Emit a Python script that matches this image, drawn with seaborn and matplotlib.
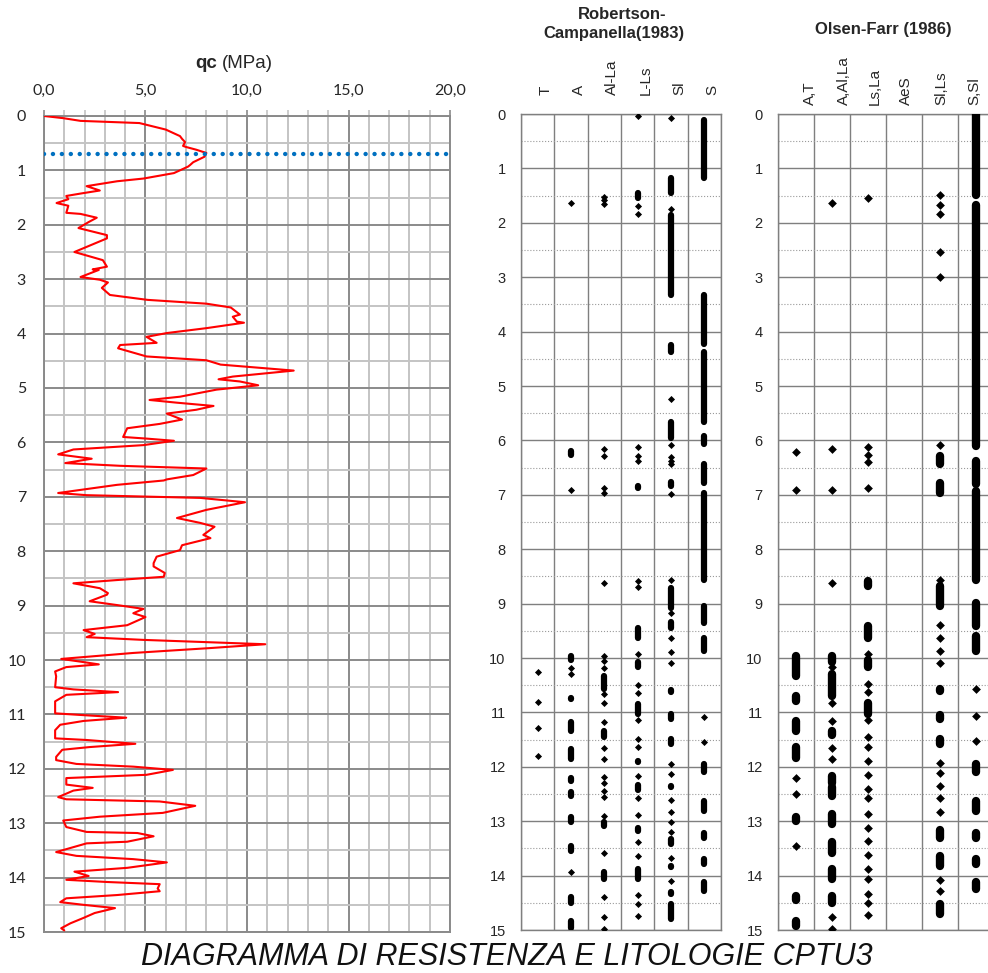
import numpy as np
import pandas as pd
import seaborn as sns
import matplotlib.pyplot as plt
import matplotlib.transforms as mtransforms
from matplotlib.ticker import MultipleLocator, FixedLocator

sns.set_style("white")
plt.rcParams['font.family'] = ['Liberation Sans', 'DejaVu Sans']

# --- qc profile (depth m, qc MPa) ---
qc_depth = [0.00, 0.04, 0.09, 0.13, 0.25, 0.37, 0.42, 0.48, 0.55, 0.57, 0.62, 0.68,
            0.75, 0.85, 0.90, 0.93, 1.05, 1.15, 1.20, 1.29, 1.37, 1.42, 1.47, 1.53,
            1.60, 1.65, 1.78, 1.80, 1.87, 1.95, 2.06, 2.19, 2.25, 2.50, 2.65, 2.77,
            2.82, 2.83, 2.96, 3.01, 3.06, 3.16, 3.29, 3.38, 3.45, 3.52, 3.65, 3.69,
            3.78, 3.80, 3.90, 3.99, 4.06, 4.17, 4.21, 4.27, 4.42, 4.49, 4.57, 4.68,
            4.79, 4.84, 4.88, 4.95, 5.03, 5.16, 5.22, 5.27, 5.33, 5.40, 5.47, 5.58,
            5.66, 5.74, 5.90, 5.93, 5.97, 6.05, 6.13, 6.22, 6.30, 6.38, 6.43, 6.48,
            6.60, 6.68, 6.70, 6.78, 6.93, 6.97, 7.02, 7.10, 7.24, 7.39, 7.48, 7.55,
            7.70, 7.76, 7.89, 7.98, 8.10, 8.22, 8.28, 8.40, 8.47, 8.53, 8.59, 8.68,
            8.77, 8.80, 8.92, 8.99, 9.06, 9.14, 9.21, 9.36, 9.45, 9.52, 9.58, 9.63,
            9.71, 9.78, 9.87, 9.98, 10.03, 10.08, 10.13, 10.21, 10.30, 10.50, 10.54,
            10.59, 10.64, 10.76, 10.98, 11.01, 11.06, 11.12, 11.19, 11.29, 11.44,
            11.47, 11.54, 11.60, 11.65, 11.78, 11.84, 11.91, 11.96, 12.02, 12.11,
            12.17, 12.29, 12.35, 12.40, 12.52, 12.56, 12.60, 12.68, 12.81, 12.88,
            12.95, 13.07, 13.16, 13.18, 13.24, 13.34, 13.37, 13.53, 13.60, 13.66,
            13.72, 13.82, 13.89, 13.97, 14.04, 14.08, 14.12, 14.20, 14.25, 14.32,
            14.38, 14.45, 14.50, 14.56, 14.65, 14.74, 14.84, 14.93, 14.97]
qc_value = [0.0, 0.95, 1.8, 4.7, 6.0, 6.7, 6.8, 6.95, 6.85, 7.0, 7.5, 8.0,
            7.9, 7.35, 7.2, 7.1, 6.4, 4.9, 3.6, 2.1, 2.75, 1.9, 1.1, 1.2,
            0.62, 1.2, 1.1, 1.8, 2.6, 2.2, 1.7, 3.1, 3.1, 1.5, 2.9, 3.1,
            2.4, 2.7, 1.8, 2.75, 3.15, 2.85, 3.25, 5.1, 8.0, 9.2, 9.65, 9.3,
            9.5, 9.85, 8.0, 6.05, 5.05, 5.55, 3.75, 3.65, 5.05, 8.0, 8.7, 12.3,
            9.3, 8.6, 9.65, 10.55, 8.5, 6.7, 5.2, 6.55, 8.35, 7.5, 6.05, 6.8,
            5.7, 4.1, 3.9, 5.05, 6.4, 4.9, 1.45, 0.7, 2.35, 1.05, 3.75, 8.0,
            7.35, 6.05, 5.9, 3.6, 0.7, 2.1, 7.7, 9.9, 8.0, 6.55, 7.7, 8.4,
            7.85, 8.2, 6.8, 6.7, 5.55, 5.4, 5.4, 5.95, 5.9, 3.6, 1.45, 2.75,
            3.15, 3.1, 2.25, 3.6, 4.9, 4.4, 5.0, 4.1, 1.95, 2.5, 2.1, 4.9,
            10.9, 8.2, 4.4, 0.85, 1.8, 2.7, 1.1, 0.55, 0.6, 0.55, 1.45,
            3.65, 1.1, 0.55, 0.55, 1.8, 4.05, 1.95, 0.8, 0.55, 0.55,
            2.1, 4.5, 2.25, 0.9, 0.6, 0.6, 1.6, 4.4, 6.35, 5.05,
            1.1, 1.1, 2.4, 1.45, 0.7, 1.1, 5.7, 7.45, 5.85, 2.75,
            0.95, 1.1, 2.1, 4.6, 5.4, 4.1, 2.1, 0.6, 1.6, 4.4,
            6.05, 4.1, 1.5, 2.2, 1.1, 3.1, 5.7, 5.6, 5.7, 3.6,
            1.1, 0.8, 1.95, 3.5, 2.5, 1.95, 1.3, 0.85, 1.0]
water_table = 0.7

# --- lithology classes: single value = one reading, tuple = continuous run ---
rc_labels = ['T', 'A', 'Al-La', 'L-Ls', 'Sl', 'S']
rc_T = [10.25, 10.8, 11.29, 11.8]
rc_A = [1.64, (6.2, 6.26), 6.92, (9.97, 10.03), 10.19, 10.29, (10.73, 10.76),
        (11.18, 11.34), (11.67, 11.85), (12.2, 12.26), (12.47, 12.53),
        (12.93, 13.02), (13.45, 13.55), 13.94, (14.4, 14.5), (14.83, 14.96)]
rc_AlLa = [1.53, 1.58, 1.66, 6.15, 6.28, 6.88, 6.96, 8.63, 9.96, 10.06, 10.18,
           (10.33, 10.57), 10.67, 10.83, 11.17, (11.34, 11.46), 11.66, 11.85,
           12.18, 12.29, 12.44, 12.55, 12.9, (13.02, 13.09), 13.58,
           (13.94, 14.07), 14.39, 14.77, 14.99]
rc_LLs = [0.03, (1.45, 1.55), 1.69, 1.83, 6.12, 6.28, 6.38, (6.83, 6.87), 8.59,
          8.69, (9.45, 9.63), 9.92, (10.08, 10.17), 10.5, 10.65, (10.85, 11.03),
          11.14, 11.48, 11.64, (11.89, 11.92), 12.17, (12.34, 12.42), 12.58,
          12.88, (13.12, 13.18), 13.39, 13.64, (13.88, 14.07), 14.36, 14.52, 14.74]
rc_Sl = [0.08, (1.17, 1.46), 1.74, (1.86, 3.33), (4.25, 4.37), 5.23, (5.67, 5.95),
         6.09, 6.3, 6.38, 6.44, (6.77, 6.83), 6.98, 8.56, (8.71, 9.08), 9.17,
         (9.33, 9.45), 9.64, 9.89, 10.09, (10.58, 10.62), (11.03, 11.13),
         (11.49, 11.58), 11.95, 12.13, (12.35, 12.38), 12.61, 12.84, 13.02, 13.2,
         (13.33, 13.42), 13.67, (13.82, 13.85), 14.1, (14.31, 14.34), (14.53, 14.8)]
rc_S = [(0.11, 1.17), (3.33, 4.22), (4.37, 5.67), (5.92, 6.07), (6.44, 6.78),
        (6.96, 8.56), (9.05, 9.36), (9.63, 9.88), 11.08, 11.54, (11.95, 12.1),
        (12.63, 12.81), (13.21, 13.3), (13.69, 13.79), (14.12, 14.28)]

of_labels = ['A,T', 'A,Al,La', 'Ls,La', 'AeS', 'Sl,Ls', 'S,Sl']
of_AT = [6.21, 6.92, (9.97, 10.33), (10.7, 10.79), (11.15, 11.34), (11.64, 11.83),
         12.2, 12.5, (12.93, 13.0), 13.45, (14.38, 14.44), (14.83, 14.92)]
of_AAlLa = [1.64, 6.15, 6.92, 8.63, (9.96, 10.08), 10.17, (10.29, 10.69), 10.82,
            11.15, (11.34, 11.42), 11.66, 11.85, (12.17, 12.29), (12.38, 12.53),
            (12.87, 13.06), (13.39, 13.58), (13.88, 14.07), (14.37, 14.5), 14.77,
            14.98]
of_LsLa = [1.55, 6.12, 6.26, 6.4, 6.87, (8.59, 8.68), (9.42, 9.63), 9.92,
           (10.03, 10.17), 10.48, 10.63, (10.82, 11.03), 11.14, 11.46, 11.63,
           11.89, 12.15, 12.4, 12.58, 12.87, 13.12, 13.36, 13.62, 13.87, 14.07,
           14.34, 14.51, 14.73]
of_AeS = []
of_SlLs = [1.49, 1.67, 1.83, 2.53, 2.99, 6.09, (6.28, 6.44), (6.78, 6.96), 8.56,
           (8.68, 9.05), 9.4, 9.63, 9.88, 10.09, (10.57, 10.6), (11.05, 11.12),
           (11.49, 11.58), 11.93, 12.12, 12.35, 12.58, 12.83, (13.16, 13.31),
           (13.64, 13.83), 14.08, 14.28, (14.53, 14.71)]
of_SSl = [(0.0, 1.49), (1.67, 6.1), (6.38, 6.81), (6.93, 8.56), (8.99, 9.42),
          (9.6, 9.88), 10.57, 11.06, 11.52, (11.95, 12.1), (12.63, 12.81),
          (13.21, 13.3), (13.69, 13.79), (14.12, 14.25)]

fig = plt.figure(figsize=(9.88, 9.73), dpi=100)

# ---------------- qc panel ----------------
ax0 = fig.add_axes([0.0445, 0.0421, 0.411, 0.8387])
sns.lineplot(x=qc_value, y=qc_depth, sort=False, estimator=None, color='red',
             linewidth=1.5, ax=ax0, zorder=3)
ax0.axhline(water_table, color='#0070c0', linewidth=3.2, linestyle=(0, (0.01, 2.0)),
            dash_capstyle='round', zorder=4)
ax0.set_xlim(0, 20)
ax0.set_ylim(15, 0)
ax0.xaxis.tick_top()
ax0.set_xticks([0, 5, 10, 15, 20])
ax0.set_xticklabels([f"{v:.1f}".replace('.', ',') for v in [0, 5, 10, 15, 20]])
ax0.xaxis.set_minor_locator(MultipleLocator(1))
ax0.set_yticks(range(16))
ax0.yaxis.set_minor_locator(MultipleLocator(0.5))
ax0.grid(which='minor', color='#c4c4c4', linewidth=1.4)
ax0.grid(which='major', color='#8a8a8a', linewidth=1.4)
ax0.tick_params(axis='both', which='major', length=4, width=1.2, color='#8a8a8a',
                pad=9, labelsize=11.5)
ax0.tick_params(axis='x', which='minor', length=4, width=1.2, color='#c4c4c4')
ax0.tick_params(axis='y', which='minor', length=0)
for lbl in ax0.get_xticklabels() + ax0.get_yticklabels():
    lbl.set_family(['Lato', 'DejaVu Sans'])
for sp in ax0.spines.values():
    sp.set_color('#8a8a8a')
    sp.set_linewidth(1.4)
ax0.set_xlabel('')
ax0.set_ylabel('')
fig.text(195 / 988, 1 - 68 / 973, 'qc', fontsize=13.5, fontweight='bold', va='baseline')
fig.text(222 / 988, 1 - 68 / 973, '(MPa)', fontsize=13.5, va='baseline')


def litho_panel(ax, labels, columns, dot_size, run_width, label_size, shifts, lift):
    rows = []
    for i, col in enumerate(columns):
        for entry in col:
            if isinstance(entry, tuple):
                ax.vlines(i, entry[0], entry[1], colors='black', linewidth=run_width,
                          capstyle='round', zorder=3)
            else:
                rows.append({'pos': i, 'depth': entry})
    marks = pd.DataFrame(rows)
    sns.scatterplot(data=marks, x='pos', y='depth', marker='D', s=dot_size,
                    color='black', linewidth=0, ax=ax, zorder=4, legend=False)
    ax.set_xlim(-0.5, 5.5)
    ax.set_ylim(15, 0)
    ax.set_xticks([])
    ax.xaxis.set_minor_locator(FixedLocator(np.arange(-0.5, 6, 1)))
    ax.set_yticks(range(16))
    ax.yaxis.set_minor_locator(MultipleLocator(0.5))
    ax.grid(axis='x', which='minor', color='#7f7f7f', linewidth=1)
    ax.grid(axis='y', which='major', color='#7f7f7f', linewidth=1)
    ax.grid(axis='y', which='minor', color='#9a9a9a', linewidth=0.8, linestyle=':')
    ax.tick_params(axis='y', which='major', length=2, color='#7f7f7f', pad=9,
                   labelsize=10.5)
    ax.tick_params(which='minor', length=0)
    for sp in ax.spines.values():
        sp.set_color('#7f7f7f')
        sp.set_linewidth(1)
    ax.set_xlabel('')
    ax.set_ylabel('')
    trans = mtransforms.blended_transform_factory(ax.transData, ax.transAxes)
    for i, (lab, dx) in enumerate(zip(labels, shifts)):
        tr = mtransforms.offset_copy(trans, fig=fig, x=dx, y=lift, units='dots')
        ax.text(i, 1.0, lab, transform=tr, rotation=90, ha='center', va='bottom',
                fontsize=label_size)


ax1 = fig.add_axes([521 / 988, 1 - 930 / 973, 200 / 988, 816 / 973])
litho_panel(ax1, rc_labels, [rc_T, rc_A, rc_AlLa, rc_LLs, rc_Sl, rc_S],
            dot_size=13, run_width=4.5, label_size=11, shifts=[8] * 6, lift=19)

ax2 = fig.add_axes([778 / 988, 1 - 930 / 973, 216 / 988, 816 / 973])
litho_panel(ax2, of_labels, [of_AT, of_AAlLa, of_LsLa, of_AeS, of_SlLs, of_SSl],
            dot_size=20, run_width=6, label_size=11,
            shifts=[14, 12, 7, 2, 1, -2], lift=9)

fig.text(622 / 988, 1 - 19 / 973, 'Robertson-', fontsize=12, fontweight='bold',
         ha='center', va='baseline')
fig.text(614 / 988, 1 - 38 / 973, 'Campanella(1983)', fontsize=12, fontweight='bold',
         ha='center', va='baseline')
fig.text(883 / 988, 1 - 34 / 973, 'Olsen-Farr (1986)', fontsize=12, fontweight='bold',
         ha='center', va='baseline')

fig.text(507 / 988, 1 - 965 / 973, 'DIAGRAMMA DI RESISTENZA E LITOLOGIE CPTU3',
         fontsize=22, style='italic', ha='center', va='baseline', color='#111111')

fig.savefig('out.png', dpi=100)
